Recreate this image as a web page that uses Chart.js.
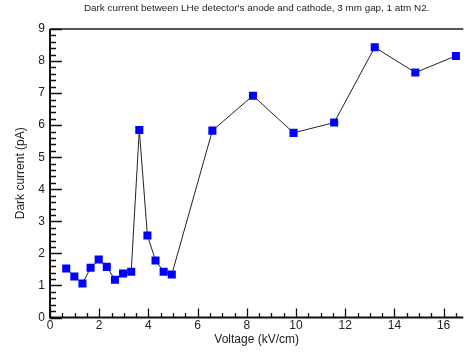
<!DOCTYPE html>
<html>
<head>
<meta charset="utf-8">
<script src="https://cdn.jsdelivr.net/npm/chart.js@4.4.1/dist/chart.umd.min.js"></script>
<style>
  html, body { margin: 0; padding: 0; background: #fff; }
  #wrap { width: 469px; height: 354px; }
</style>
</head>
<body>
<div id="wrap"><canvas id="darkChart"></canvas></div>
<script>
// field (kV/cm) and measured dark current (pA)
const voltage = [0.66, 0.99, 1.32, 1.65, 1.98, 2.31, 2.64, 2.97, 3.3, 3.63, 3.96, 4.29, 4.62, 4.95,
                 6.6, 8.25, 9.9, 11.55, 13.2, 14.85, 16.5];
const current = [1.53, 1.28, 1.06, 1.55, 1.81, 1.58, 1.18, 1.37, 1.43, 5.85, 2.56, 1.78, 1.43, 1.34,
                 5.83, 6.92, 5.76, 6.08, 8.43, 7.64, 8.16];

const xTicks = [0, 2, 4, 6, 8, 10, 12, 14, 16];
const yTicks = [0, 1, 2, 3, 4, 5, 6, 7, 8, 9];

const FONT = "'Liberation Sans', Arial, sans-serif";

// axes drawn by hand so the tick marks point inwards, with minor ticks
const frameTicks = {
    id: "frameTicks",
    afterDraw(chart) {
        const { ctx, chartArea: a, scales } = chart;
        const xs = scales.x, ys = scales.y;
        ctx.save();

        // gray frame line across the top
        ctx.strokeStyle = "#555";
        ctx.lineWidth = 2;
        ctx.beginPath();
        ctx.moveTo(a.left, a.top);
        ctx.lineTo(a.right, a.top);
        ctx.stroke();

        ctx.strokeStyle = "#111";
        ctx.lineWidth = 2;
        ctx.beginPath();
        ctx.moveTo(a.left, a.top);
        ctx.lineTo(a.left, a.bottom);
        ctx.lineTo(a.right, a.bottom);
        ctx.stroke();

        ctx.lineWidth = 1.3;
        ctx.beginPath();
        for (let v = 0; v <= xs.max + 1e-9; v += 0.5) {
            const px = Math.round(xs.getPixelForValue(v)) + 0.5;
            const len = Math.abs(v % 2) < 1e-9 ? 9 : 4.5;
            ctx.moveTo(px, a.bottom);
            ctx.lineTo(px, a.bottom - len);
        }
        for (let v = 0; v <= ys.max + 1e-9; v += 0.2) {
            const py = Math.round(ys.getPixelForValue(v)) + 0.5;
            const major = Math.abs(v - Math.round(v)) < 1e-6;
            ctx.moveTo(a.left, py);
            ctx.lineTo(a.left + (major ? 12 : 6), py);
        }
        ctx.stroke();
        ctx.restore();
    },
};

new Chart(document.getElementById("darkChart"), {
    type: "line",
    data: {
        datasets: [
            {
                label: "Dark current",
                data: voltage.map((v, i) => ({ x: v, y: current[i] })),
                borderColor: "#222",
                borderWidth: 1,
                tension: 0,
                pointStyle: "rect",
                pointRadius: 5.7,
                pointBorderWidth: 0,
                pointBackgroundColor: "#0000ff",
                pointBorderColor: "#0000ff",
            },
        ],
    },
    options: {
        responsive: true,
        maintainAspectRatio: false,
        animation: false,
        layout: { padding: 0 },
        plugins: {
            legend: { display: false },
            tooltip: { enabled: false },
            title: {
                display: true,
                fullSize: false,
                text: "Dark current between LHe detector's anode and cathode, 3 mm gap, 1 atm N2.",
                color: "#222",
                font: { family: FONT, size: 9.9, weight: "normal" },
                padding: { top: 2, bottom: 15.1 },
            },
        },
        scales: {
            x: {
                type: "linear",
                min: 0,
                max: 16.8,
                afterBuildTicks: (s) => { s.ticks = xTicks.map((v) => ({ value: v })); },
                afterFit: (s) => { s.height = 36.5; },
                grid: { display: false, drawTicks: false },
                border: { display: false },
                ticks: { color: "#222", padding: 1, font: { family: FONT, size: 12 } },
                title: {
                    display: true,
                    text: "Voltage (kV/cm)",
                    color: "#222",
                    font: { family: FONT, size: 12 },
                    padding: { top: 0, bottom: 7 },
                },
            },
            y: {
                type: "linear",
                min: 0,
                max: 9,
                afterBuildTicks: (s) => { s.ticks = yTicks.map((v) => ({ value: v })); },
                afterFit: (s) => { s.width = 50; },
                grid: { display: false, drawTicks: false },
                border: { display: false },
                ticks: { color: "#222", padding: 5, font: { family: FONT, size: 12 } },
                title: {
                    display: true,
                    text: "Dark current (pA)",
                    color: "#222",
                    font: { family: FONT, size: 12 },
                    padding: { top: 13, bottom: 0 },
                },
            },
        },
    },
    plugins: [frameTicks],
});
</script>
</body>
</html>
